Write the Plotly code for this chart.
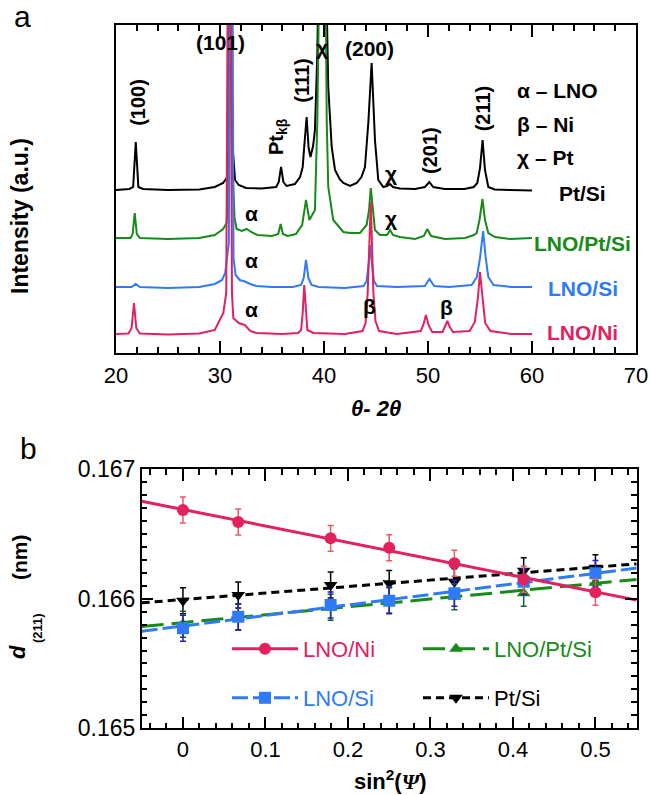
import numpy as np
import plotly.graph_objects as go

# ---------------- colours ----------------
RED = "#E2215E"
BLUE = "#2F7BF7"
GREEN = "#178A17"
BLACK = "#000000"

# ---------------- panel a : XRD patterns (2theta, intensity a.u.) ----------------
tth_ptsi = [20.0, 21.3, 21.65, 21.9, 22.15, 22.6, 25.0, 28.0, 29.5, 30.3, 30.7, 30.85, 31.0, 31.15, 31.45,
            31.8, 32.5, 34.0, 35.4, 35.65, 35.87, 36.1, 36.4, 37.2, 37.7, 37.95, 38.15, 38.33, 38.52, 38.7,
            38.95, 39.13, 39.36, 39.6, 39.9, 40.2, 40.41, 40.74, 41.06, 41.5, 41.86, 42.5, 43.14, 43.6, 43.94,
            44.26, 44.58, 44.9, 45.22, 45.7, 46.06, 46.35, 46.63, 47.3, 48.75, 49.7, 50.13, 50.5, 51.6, 53.5,
            54.4, 54.74, 55.0, 55.25, 55.48, 55.8, 56.4, 57.9, 60.0]
int_ptsi = [163, 164, 166, 211, 166, 164, 163, 163.5, 166, 170, 176, 215, 700, 215, 173,
            168, 165, 164.5, 166, 171, 186, 171, 167, 169, 176, 186, 213, 236, 205, 196,
            207, 223, 300, 380, 700, 380, 266, 206, 183, 174, 170, 167, 170, 176, 186,
            230, 290, 213, 173, 166, 167, 169, 166, 164.5, 164, 166, 171, 166, 164, 164,
            166, 170, 185, 213, 183, 166, 163.5, 163, 162.5]

tth_lnoptsi = [20.0, 21.4, 21.6, 21.8, 22.0, 22.3, 25.0, 28.0, 29.5, 30.3, 30.64, 30.85, 31.0, 31.15, 31.4,
               31.6, 32.1, 32.56, 33.0, 33.6, 35.0, 35.6, 35.83, 36.05, 36.5, 37.3, 37.9, 38.27, 38.6, 38.9,
               39.13, 39.36, 39.54, 39.95, 40.19, 40.26, 40.41, 40.89, 41.86, 42.5, 43.46, 44.1, 44.33, 44.5,
               44.71, 44.9, 45.38, 46.06, 46.35, 46.63, 47.3, 48.75, 49.6, 49.94, 50.3, 51.63, 53.56, 54.42,
               54.68, 54.95, 55.24, 55.48, 55.8, 56.44, 57.9, 60.0]
int_lnoptsi = [115, 115, 119, 140, 119, 115, 114, 115, 118, 124, 130, 200, 700, 200, 135,
               124, 122, 124, 121, 118, 117, 119, 129, 119, 117, 119, 128, 153, 133, 138,
               143, 233, 330, 700, 330, 233, 166, 133, 121, 120, 120, 128, 143, 165,
               143, 123, 118, 118, 123, 118, 116, 114, 117, 124, 117, 114, 115, 118,
               120, 133, 154, 133, 120, 116, 114, 115]

tth_lnosi = [20.0, 21.5, 21.9, 22.3, 25.0, 28.0, 29.5, 30.2, 30.5, 30.85, 31.1, 31.3, 31.5, 31.9, 32.4,
             32.9, 33.5, 35.0, 37.0, 37.8, 38.05, 38.27, 38.5, 38.8, 39.5, 42.0, 43.8, 44.1, 44.3, 44.42,
             44.6, 44.8, 45.1, 47.0, 49.7, 50.13, 50.6, 52.0, 54.2, 54.7, 55.0, 55.3, 55.55, 55.8, 56.3,
             58.0, 60.0]
int_lnosi = [66, 66, 69, 66, 65, 66, 69, 73, 80, 110, 700, 95, 78, 73, 71.5,
             69, 67, 66, 66, 68, 75, 93, 75, 68, 66, 65, 67, 72, 90, 108,
             90, 72, 67, 66, 67, 74, 67, 66, 68, 76, 95, 122, 95, 76, 68,
             66, 66]

tth_lnoni = [20.0, 21.2, 21.5, 21.73, 21.95, 22.3, 25.0, 28.0, 29.5, 30.32, 30.6, 30.89, 31.15, 31.28, 31.8,
             32.4, 32.9, 33.5, 36.0, 37.5, 37.8, 37.95, 38.1, 38.25, 38.4, 39.0, 42.0, 43.7, 44.0, 44.2,
             44.5, 44.75, 44.95, 45.3, 47.0, 49.3, 49.55, 49.8, 50.05, 50.4, 51.4, 51.65, 51.86, 52.1, 52.4,
             54.0, 54.5, 54.8, 55.0, 55.25, 55.5, 56.0, 58.0, 60.0]
int_lnoni = [19, 19.5, 25, 50, 25, 19.5, 18.5, 19.5, 23, 40, 60, 700, 60, 35, 30,
             28, 22, 20, 19, 20, 23, 40, 68, 40, 23, 20, 19, 22, 30, 60,
             151, 60, 32, 22, 19, 22, 28, 38, 28, 21, 21, 27, 32, 26, 21,
             22, 31, 55, 81, 55, 30, 22, 19, 19]

xrd_series = [
    ("Pt/Si", tth_ptsi, int_ptsi, BLACK),
    ("LNO/Pt/Si", tth_lnoptsi, int_lnoptsi, GREEN),
    ("LNO/Si", tth_lnosi, int_lnosi, BLUE),
    ("LNO/Ni", tth_lnoni, int_lnoni, RED),
]

# ---------------- panel b : d(211) vs sin^2(psi) ----------------
sin2psi = [0, 0.067, 0.179, 0.25, 0.329, 0.413, 0.5]
d_lnoni = [0.166684, 0.166591, 0.166465, 0.166393, 0.166273, 0.166150, 0.166049]
d_lnoptsi = [0.165802, 0.165856, 0.165933, 0.165990, 0.166015, 0.166041, 0.166123]
d_lnosi = [0.165771, 0.165861, 0.165951, 0.165984, 0.166041, 0.166131, 0.166195]
d_ptsi = [0.165984, 0.166028, 0.166105, 0.166118, 0.166131, 0.166216, 0.166239]
err_lnoni = [0.0001] * 7
err_lnoptsi = [0.0001] * 7
err_lnosi = [0.0001] * 7
err_ptsi = [0.0001] * 7

FONT = "Arial"

fig = go.Figure()

for name, tx, ty, col in xrd_series:
    fig.add_trace(go.Scatter(x=tx, y=ty, mode="lines", line=dict(color=col, width=2),
                             showlegend=False, xaxis="x", yaxis="y", hoverinfo="skip"))

XR2 = [-0.05, 0.55]
strain_series = [
    # name, d, err, colour, errcolour, dash, symbol, legend
    ("Pt/Si", d_ptsi, err_ptsi, BLACK, BLACK, "8px,5px", "triangle-down", "legend2"),
    ("LNO/Pt/Si", d_lnoptsi, err_lnoptsi, GREEN, "#1F5A50", "22px,8px", "triangle-up", "legend"),
    ("LNO/Si", d_lnosi, err_lnosi, BLUE, "#2424A8", "16px,5px", "square", "legend2"),
    ("LNO/Ni", d_lnoni, err_lnoni, RED, "#E85A6A", "solid", "circle", "legend"),
]

xfit = np.array(XR2)
for name, d, e, col, ecol, dash, sym, lg in strain_series:
    k, b = np.polyfit(sin2psi, d, 1)
    fig.add_trace(go.Scatter(x=xfit, y=k * xfit + b, mode="lines",
                             line=dict(color=col, width=3, dash=dash),
                             showlegend=False, xaxis="x2", yaxis="y2", hoverinfo="skip"))
for name, d, e, col, ecol, dash, sym, lg in strain_series:
    fig.add_trace(go.Scatter(x=sin2psi, y=d, mode="markers",
                             marker=dict(color=col, size=12, symbol=sym),
                             error_y=dict(type="data", array=e, color=ecol, thickness=1.5, width=3),
                             showlegend=False, xaxis="x2", yaxis="y2"))

# legend-only entries (line + marker)
legend_order = ["LNO/Ni", "LNO/Pt/Si", "LNO/Si", "Pt/Si"]
lookup = {s[0]: s for s in strain_series}
for nm in legend_order:
    name, d, e, col, ecol, dash, sym, lg = lookup[nm]
    fig.add_trace(go.Scatter(x=[None], y=[None], mode="lines+markers",
                             name=f'<span style="color:{col}">{name}</span>',
                             line=dict(color=col, width=3, dash=dash),
                             marker=dict(color=col, size=12, symbol=sym),
                             legend=lg, xaxis="x2", yaxis="y2"))

W, H = 649, 795
def px(x):
    return x / W
def py(y):
    return 1 - y / H

axis_common = dict(showline=True, linecolor="black", linewidth=1.5, mirror="allticks",
                   ticks="inside", ticklen=12, tickwidth=1.5, tickcolor="black", automargin=False,
                   showgrid=False, zeroline=False)

fig.update_layout(
    template="none",
    width=W, height=H, margin=dict(l=0, r=0, t=0, b=0, autoexpand=False),
    paper_bgcolor="white", plot_bgcolor="white",
    font=dict(family=FONT, color="black"),
    xaxis=dict(domain=[px(116), px(636)], range=[20, 70], anchor="y", tick0=20, dtick=10,
               minor=dict(dtick=2, ticks="inside", ticklen=6, tickwidth=1.5, tickcolor="black"),
               ticklabelstandoff=2, tickfont=dict(family=FONT, size=22, color="black"), **axis_common),
    yaxis=dict(domain=[py(353), py(25)], range=[0, 328], anchor="x", showline=True, linecolor="black",
               linewidth=1.5, mirror=True, showticklabels=False, ticks="", showgrid=False, zeroline=False,
               automargin=False),
    xaxis2=dict(domain=[px(141.7), px(636.7)], range=XR2, anchor="y2", tick0=0, dtick=0.1,
                minor=dict(dtick=0.02, ticks="inside", ticklen=6, tickwidth=1.5, tickcolor="black"),
                ticklabelstandoff=1, tickfont=dict(family=FONT, size=22, color="black"), **axis_common),
    yaxis2=dict(domain=[py(728.3), py(469)], range=[0.165, 0.167], anchor="x2", dtick=0.001,
                tickformat=".3f",
                minor=dict(dtick=0.0001, ticks="inside", ticklen=6, tickwidth=1.5, tickcolor="black"),
                ticklabelstandoff=0, tickfont=dict(family=FONT, size=23, color="black"), **axis_common),
    legend=dict(orientation="h", x=px(227), y=py(649), xanchor="left", yanchor="middle",
                font=dict(family=FONT, size=22), itemwidth=66, entrywidth=110, entrywidthmode="pixels",
                bgcolor="rgba(0,0,0,0)", traceorder="normal"),
    legend2=dict(orientation="h", x=px(227), y=py(698), xanchor="left", yanchor="middle",
                 font=dict(family=FONT, size=22), itemwidth=66, entrywidth=110, entrywidthmode="pixels",
                 bgcolor="rgba(0,0,0,0)", traceorder="normal"),
)

ann = []
def A(text, x, y, size=20, bold=True, color="black", angle=0, xanchor="center", yanchor="middle",
      xref="x", yref="y"):
    t = f"<b>{text}</b>" if bold else text
    ann.append(dict(text=t, x=x, y=y, xref=xref, yref=yref, showarrow=False, textangle=angle,
                    xanchor=xanchor, yanchor=yanchor, font=dict(family=FONT, size=size, color=color)))

# peak labels panel a (data coordinates: 2theta, intensity)
A("(101)", 30.0, 310, size=21)
A("(100)", 22.1, 251, size=20, angle=-90)
A("Pt<sub>kβ</sub>", 35.48, 217, size=20, angle=-90)
A("(111)", 37.86, 272, size=20, angle=-90)
A("χ", 39.8, 305, size=21)
A("(200)", 44.42, 304, size=21)
A("χ", 46.41, 180, size=21)
A("(201)", 50.19, 203, size=20, angle=-90)
A("(211)", 55.32, 245, size=20, angle=-90)
A("α – LNO", 58.37, 263, size=21, xanchor="left")
A("β – Ni", 58.37, 229, size=21, xanchor="left")
A("χ – Pt", 58.37, 196, size=21, xanchor="left")
A("α", 33.04, 140, size=21)
A("α", 33.04, 93, size=21)
A("α", 33.04, 44, size=21)
A("χ", 46.41, 135, size=21)
A("β", 44.35, 47, size=21)
A("β", 51.8, 46, size=21)
# sample labels
A("Pt/Si", 64.9, 160, size=21, color=BLACK)
A("LNO/Pt/Si", 64.9, 110, size=21, color=GREEN)
A("LNO/Si", 64.9, 65, size=21, color=BLUE)
A("LNO/Ni", 64.9, 21, size=21, color=RED)

# axis titles / panel letters (paper coordinates)
A("Intensity (a.u.)", px(20), py(216), size=23, angle=-90, xref="paper", yref="paper")
A("<i>θ- 2θ</i>", px(376), py(408), size=22, xref="paper", yref="paper")
A("a", px(22), py(17), size=30, bold=False, xref="paper", yref="paper")
A("b", px(28), py(448), size=30, bold=False, xref="paper", yref="paper")
A("<i>d</i>", px(17), py(652), size=22, angle=-90, xref="paper", yref="paper")
A("(211)", px(37), py(628), size=13, angle=-90, xref="paper", yref="paper")
A("(nm)", px(19), py(557), size=21, angle=-90, xref="paper", yref="paper")
A('sin<sup>2</sup>(<span style="font-family:Liberation Serif"><i>Ψ</i></span>)', px(390), py(780),
  size=22, xref="paper", yref="paper")

fig.update_layout(annotations=ann)
fig.write_html("out.html", config={"displayModeBar": False},
               post_script="document.body.style.margin='0px';document.body.style.overflow='hidden';")
